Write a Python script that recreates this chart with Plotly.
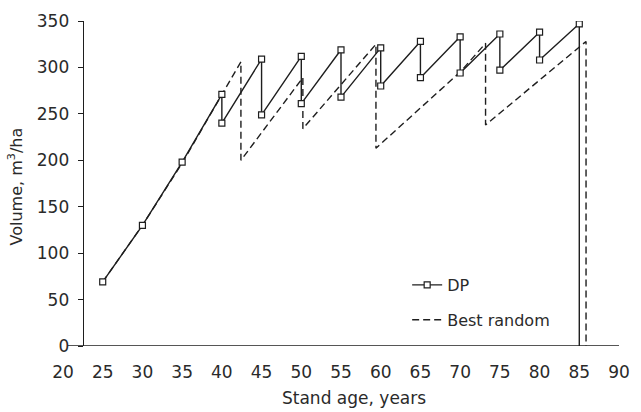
import plotly.graph_objects as go

# Stand volume trajectories (m3/ha) over stand age (years)
dp_age = [25, 30, 35, 40, 40, 45, 45, 50, 50, 55, 55, 60, 60, 65, 65, 70, 70, 75, 75, 80, 80, 85]
dp_vol = [69, 130, 198, 271, 240, 309, 249, 312, 261, 319, 268, 321, 280, 328, 289, 333, 294, 336, 297, 338, 308, 347]

rand_age = [25, 30, 35, 42.4, 42.4, 50.2, 50.2, 59.4, 59.4, 70, 73.2, 73.2, 85.85, 85.85]
rand_vol = [69, 130, 197, 306, 200, 289, 234, 325, 213, 295, 326, 238, 328, 0]

# clear-cut volume at the end of the DP rotation
dp_final_vol = 0

x_ticks = list(range(20, 95, 5))
x_mark_ticks = list(range(25, 95, 5))
y_ticks = list(range(0, 400, 50))

INK = "#1e1e1e"
FONT = "DejaVu Sans"
X_MIN, X_MAX = 20, 90
Y_AXIS_AT = 22.5

fig = go.Figure()

fig.add_trace(go.Scatter(
    x=rand_age, y=rand_vol, mode="lines", name="Best random",
    line=dict(color=INK, width=1.4, dash="7px,4px"),
    legendgroup="rand", legendrank=2,
))
fig.add_trace(go.Scatter(
    x=[dp_age[-1], dp_age[-1]], y=[dp_vol[-1], dp_final_vol], mode="lines",
    line=dict(color=INK, width=1.4), showlegend=False,
))
fig.add_trace(go.Scatter(
    x=dp_age, y=dp_vol, mode="lines+markers", name="DP",
    line=dict(color=INK, width=1.4),
    marker=dict(symbol="square", size=6, color="white", line=dict(color=INK, width=1.2)),
    legendgroup="dp", legendrank=1,
))

pos = (Y_AXIS_AT - X_MIN) / (X_MAX - X_MIN)
tick_font = dict(family=FONT, size=17, color="#2a2a2a")

fig.update_layout(
    width=641, height=412,
    margin=dict(l=63, r=14, t=11, b=66),
    paper_bgcolor="white", plot_bgcolor="white",
    font=dict(family=FONT, color="#2a2a2a"),
    xaxis=dict(
        range=[X_MIN, X_MAX], tickvals=x_ticks, ticks="", showline=False,
        showgrid=False, zeroline=False, tickfont=tick_font, ticklabelstandoff=14,
    ),
    xaxis2=dict(
        range=[X_MIN, X_MAX], overlaying="x", anchor="y", tickvals=x_mark_ticks,
        ticks="outside", ticklen=5, tickwidth=1.4, tickcolor=INK,
        showticklabels=False, showline=False, showgrid=False, zeroline=False,
    ),
    xaxis3=dict(
        range=[X_MIN, X_MAX], overlaying="x", anchor="y", tickvals=x_mark_ticks,
        ticks="inside", ticklen=4, tickwidth=1.4, tickcolor=INK,
        showticklabels=False, showline=False, showgrid=False, zeroline=False,
    ),
    yaxis=dict(
        range=[0, 350], tickvals=y_ticks, anchor="free", position=pos,
        ticks="outside", ticklen=5, tickwidth=1.4, tickcolor=INK,
        showline=True, linecolor=INK, linewidth=1.4,
        showgrid=False, zeroline=False, tickfont=tick_font, ticklabelstandoff=5,
    ),
    yaxis2=dict(
        range=[0, 350], tickvals=y_ticks, overlaying="y", anchor="free", position=pos,
        ticks="inside", ticklen=5, tickwidth=1.4, tickcolor=INK,
        showticklabels=False, showline=False, showgrid=False, zeroline=False,
    ),
    showlegend=True,
    legend=dict(
        x=0.619, y=0.24, xanchor="left", yanchor="top",
        font=dict(family=FONT, size=16, color="#2a2a2a"),
        tracegroupgap=11, itemwidth=30, bgcolor="rgba(0,0,0,0)",
        traceorder="grouped",
    ),
    shapes=[dict(
        type="line", xref="x", yref="y", x0=20.6, x1=X_MAX, y0=0, y1=0,
        line=dict(color=INK, width=1.4),
    )],
    annotations=[
        dict(text="Stand age, years", xref="paper", yref="paper", x=0.524, y=-0.122,
             xanchor="center", yanchor="top", showarrow=False,
             font=dict(family=FONT, size=17, color="#2a2a2a")),
        dict(text="Volume, m<sup>3</sup>/ha", xref="paper", yref="paper", x=-0.085, y=0.49,
             xanchor="center", yanchor="middle", textangle=-90, showarrow=False,
             font=dict(family=FONT, size=16, color="#2a2a2a")),
    ],
)

fig.write_html("out.html")
